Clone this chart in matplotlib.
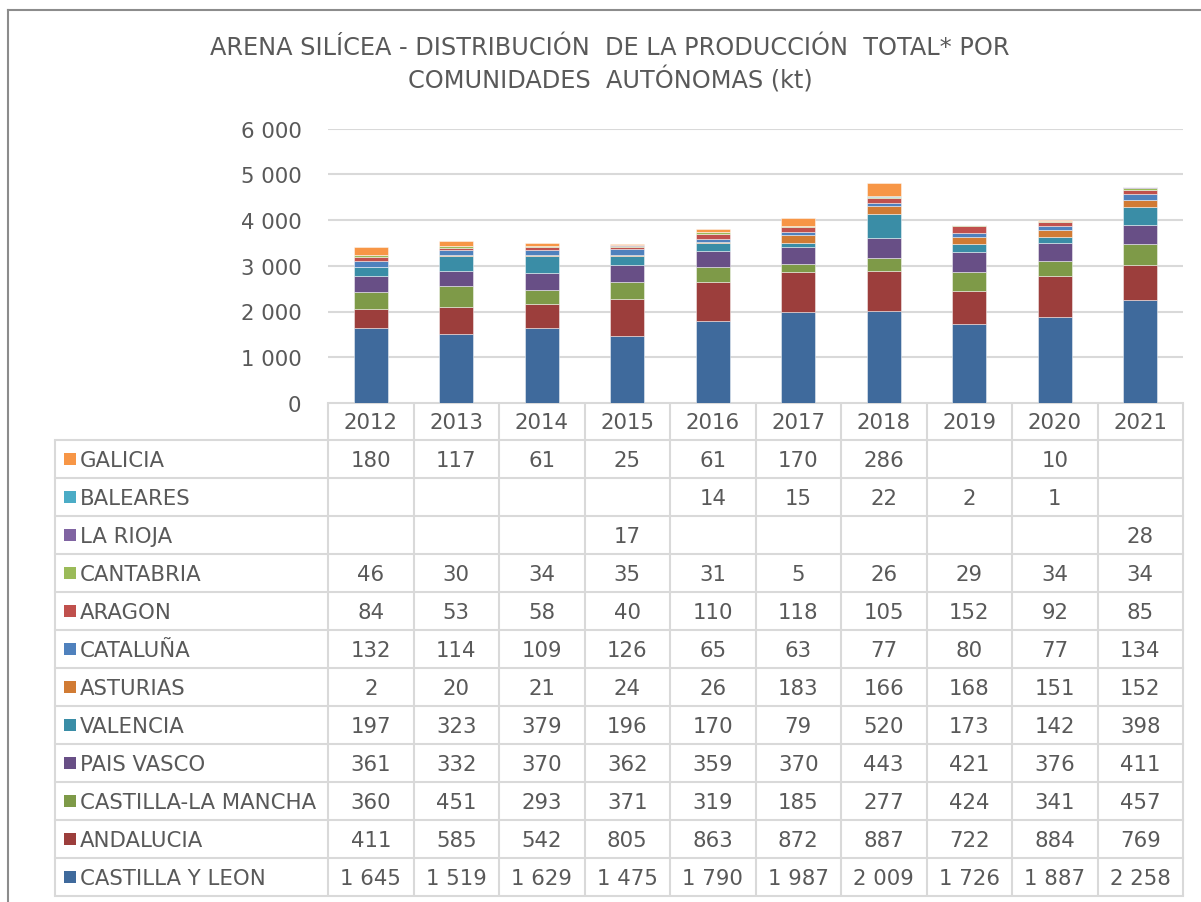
import matplotlib.pyplot as plt
import numpy as np

# données (kt) - ordre d'empilement, du bas vers le haut
years = ["2012", "2013", "2014", "2015", "2016", "2017", "2018", "2019", "2020", "2021"]
regions = ["CASTILLA Y LEON", "ANDALUCIA", "CASTILLA-LA MANCHA", "PAIS VASCO", "VALENCIA",
           "ASTURIAS", "CATALUÑA", "ARAGON", "CANTABRIA", "LA RIOJA", "BALEARES", "GALICIA"]

castilla_leon = [1645, 1519, 1629, 1475, 1790, 1987, 2009, 1726, 1887, 2258]
andalucia = [411, 585, 542, 805, 863, 872, 887, 722, 884, 769]
castilla_mancha = [360, 451, 293, 371, 319, 185, 277, 424, 341, 457]
pais_vasco = [361, 332, 370, 362, 359, 370, 443, 421, 376, 411]
valencia = [197, 323, 379, 196, 170, 79, 520, 173, 142, 398]
asturias = [2, 20, 21, 24, 26, 183, 166, 168, 151, 152]
cataluna = [132, 114, 109, 126, 65, 63, 77, 80, 77, 134]
aragon = [84, 53, 58, 40, 110, 118, 105, 152, 92, 85]
cantabria = [46, 30, 34, 35, 31, 5, 26, 29, 34, 34]
la_rioja = [None, None, None, 17, None, None, None, None, None, 28]
baleares = [None, None, None, None, 14, 15, 22, 2, 1, None]
galicia = [180, 117, 61, 25, 61, 170, 286, None, 10, None]

series = [castilla_leon, andalucia, castilla_mancha, pais_vasco, valencia, asturias,
          cataluna, aragon, cantabria, la_rioja, baleares, galicia]
colors = ["#3F6A9C", "#9C3E3C", "#7E9A48", "#684F86", "#3A8DA6", "#D17B34",
          "#4F81BD", "#C0504D", "#9BBB59", "#8064A2", "#4BACC6", "#F79646"]

title = "ARENA SILÍCEA - DISTRIBUCIÓN  DE LA PRODUCCIÓN  TOTAL* POR\nCOMUNIDADES  AUTÓNOMAS (kt)"

gris = "#595959"
ligne = "#D9D9D9"
fs = 15.3

W, H = 1201, 903
fig = plt.figure(figsize=(W / 100, H / 100), dpi=100)

# zone du graphique (en pixels)
x0, x1 = 328, 1183
y_zero, y_top = 404, 129.5
col_w = (x1 - x0) / len(years)

ax = fig.add_axes([x0 / W, 1 - y_zero / H, (x1 - x0) / W, (y_zero - y_top) / H])
x = np.arange(len(years))
bottom = np.zeros(len(years))
for vals, c in zip(series, colors):
    v = np.array([0 if a is None else a for a in vals], dtype=float)
    ax.bar(x, v, 0.4, bottom=bottom, color=c, edgecolor=(1, 1, 1, 0.45), linewidth=0.7, zorder=3)
    bottom += v

ax.set_xlim(-0.5, len(years) - 0.5)
ax.set_ylim(0, 6000)
ax.set_yticks(range(0, 6001, 1000))
ax.set_yticklabels([f"{t:,}".replace(",", " ") for t in range(0, 6001, 1000)],
                   fontsize=fs, color=gris)
ax.set_xticks([])
ax.tick_params(axis="y", length=0, pad=19)
for s in ax.spines.values():
    s.set_visible(False)
ax.grid(axis="y", color=ligne, linewidth=1.5, zorder=0)

# tableau de données
tab = fig.add_axes([0, 0, 1, 1], zorder=-1)
tab.set_xlim(0, W)
tab.set_ylim(H, 0)
tab.axis("off")
tab.patch.set_visible(False)

lab_x = 55
head_bot = 440.7
row_h = 38
n_rows = len(regions)
tab_bot = head_bot + n_rows * row_h

for i in range(len(years) + 1):
    cx = x0 + i * col_w
    tab.plot([cx, cx], [y_zero, tab_bot], color=ligne, lw=1.5, solid_capstyle="butt")
tab.plot([lab_x, lab_x], [head_bot, tab_bot], color=ligne, lw=1.5, solid_capstyle="butt")
tab.plot([x0, x1], [y_zero, y_zero], color=ligne, lw=1.5)
for r in range(n_rows + 1):
    yy = head_bot + r * row_h
    tab.plot([lab_x, x1], [yy, yy], color=ligne, lw=1.5)

for i, yr in enumerate(years):
    tab.text(x0 + (i + 0.5) * col_w, (y_zero + head_bot) / 2 + 1, yr, ha="center", va="center",
             fontsize=fs, color=gris)

rows = list(zip(regions, series, colors))[::-1]
for r, (name, vals, c) in enumerate(rows):
    yc = head_bot + (r + 0.5) * row_h + 1
    tab.add_patch(plt.Rectangle((64, yc - 7), 12, 12, color=c, lw=0))
    tab.text(80, yc, name, ha="left", va="center", fontsize=fs, color=gris)
    for i, v in enumerate(vals):
        if v is None:
            continue
        tab.text(x0 + (i + 0.5) * col_w, yc, f"{v:,}".replace(",", " "), ha="center", va="center",
                 fontsize=fs, color=gris)

# cadre du graphique
tab.plot([8, W], [11, 11], color="#8C8C8C", lw=1.5)
tab.plot([8, 8], [11, H], color="#8C8C8C", lw=1.5)

fig.text(610 / W, 1 - 65 / H, title, ha="center", va="center", fontsize=17.3, color=gris,
         linespacing=1.3, multialignment="center")

plt.savefig("out.png", dpi=100, facecolor="white")
plt.close()
